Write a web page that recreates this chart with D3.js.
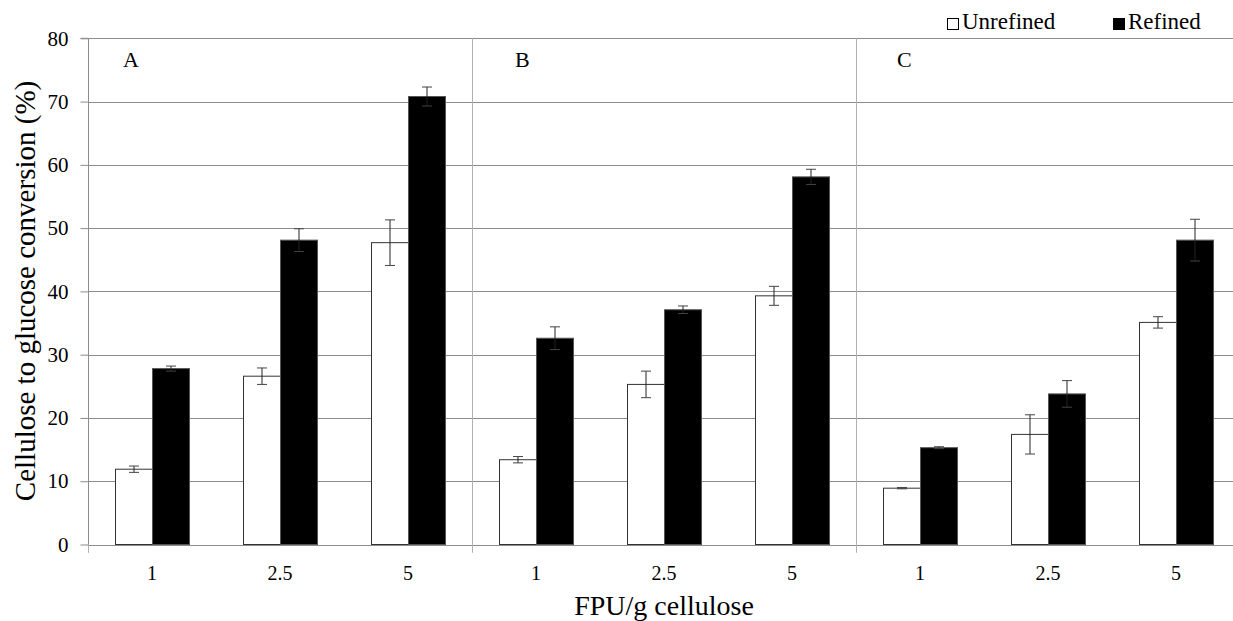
<!DOCTYPE html>
<html lang="en">
<head>
<meta charset="UTF-8">
<script src="https://d3js.org/d3.v7.min.js"></script>
<style>
  body { margin: 0; background: #fff; }
  svg text { font-family: "Liberation Serif", "DejaVu Serif", serif !important; fill: #000; }
</style>
</head>
<body>
<script>
// data
const panels = ["A", "B", "C"];
const doses = ["1", "2.5", "5"];
const series = ["Unrefined", "Refined"];
const unrefined = [[11.9, 26.6, 47.7], [13.4, 25.3, 39.3], [8.9, 17.4, 35.1]];
const refined = [[27.8, 48.1, 70.8], [32.6, 37.1, 58.1], [15.3, 23.8, 48.1]];
const unrefinedErr = [[0.5, 1.3, 3.6], [0.5, 2.1, 1.5], [0.1, 3.1, 0.9]];
const refinedErr = [[0.4, 1.8, 1.5], [1.8, 0.6, 1.2], [0.15, 2.1, 3.3]];
const yTicks = [0, 10, 20, 30, 40, 50, 60, 70, 80];

const W = 1233, H = 621;
const plotLeft = 88, plotTop = 38.3, plotBottom = 544.5, panelW = 384;
const labelDx = [35, 43, 41]; // panel letters sit slightly differently

const svg = d3.select("body").append("svg")
    .attr("width", W).attr("height", H)
    .attr("font-family", "Liberation Serif, serif");

const y = d3.scaleLinear().domain([0, 80]).range([plotBottom, plotTop]);
const xPanel = d3.scaleBand().domain(panels).range([plotLeft, plotLeft + 3 * panelW]);
const xDose = d3.scaleBand().domain(doses).range([0, panelW]);
const xSer = d3.scaleBand().domain(series).range([0, 74]);

// gridlines
svg.append("g").selectAll("line").data(yTicks.slice(1)).join("line")
    .attr("x1", plotLeft).attr("x2", plotLeft + 3 * panelW)
    .attr("y1", d => Math.round(y(d)) + 0.5).attr("y2", d => Math.round(y(d)) + 0.5)
    .attr("stroke", "#8c8c8c").attr("stroke-width", 1);

// panel separators
svg.append("g").selectAll("line").data(panels.slice(1)).join("line")
    .attr("x1", d => xPanel(d) + 0.5).attr("x2", d => xPanel(d) + 0.5)
    .attr("y1", plotTop).attr("y2", plotBottom + 8)
    .attr("stroke", "#b0b0b0");

// y axis
const yAxis = d3.axisLeft(y).tickValues(yTicks).tickSize(8).tickPadding(12);
const ya = svg.append("g").attr("transform", `translate(${plotLeft + 0.5},0)`).call(yAxis)
    .attr("font-family", null).attr("font-size", null);
ya.select(".domain").attr("stroke", "#8c8c8c").attr("d", `M-8,${plotTop}H0V${plotBottom + 8}`);
ya.selectAll(".tick line").attr("stroke", "#8c8c8c");
ya.selectAll(".tick text").style("font-size", "21px").attr("fill", "#000");

// baseline
svg.append("line").attr("x1", plotLeft).attr("x2", plotLeft + 3 * panelW)
    .attr("y1", Math.round(plotBottom) + 0.5).attr("y2", Math.round(plotBottom) + 0.5)
    .attr("stroke", "#8c8c8c");

// panels
panels.forEach((p, pi) => {
  const g = svg.append("g").attr("transform", `translate(${xPanel(p)},0)`);
  g.append("text").attr("x", labelDx[pi]).attr("y", 67).style("font-size", "22px").text(p);

  const rows = doses.map((d, di) => ({
    dose: d,
    vals: [
      { s: "Unrefined", v: unrefined[pi][di], e: unrefinedErr[pi][di] },
      { s: "Refined", v: refined[pi][di], e: refinedErr[pi][di] }
    ]
  }));

  const grp = g.selectAll("g.dose").data(rows).join("g")
      .attr("class", "dose")
      .attr("transform", d => `translate(${xDose(d.dose) + (xDose.bandwidth() - 74) / 2},0)`);

  grp.selectAll("rect").data(d => d.vals).join("rect")
      .attr("x", d => xSer(d.s) + 0.5)
      .attr("y", d => y(d.v))
      .attr("width", xSer.bandwidth())
      .attr("height", d => plotBottom - y(d.v))
      .attr("fill", d => d.s === "Refined" ? "#000" : "#fff")
      .attr("stroke", d => d.s === "Refined" ? "#555" : "#333")
      .attr("stroke-width", 1);

  const eb = grp.selectAll("g.err").data(d => d.vals).join("g")
      .attr("class", "err")
      .attr("transform", d => `translate(${xSer(d.s) + xSer.bandwidth() / 2 + 0.5},0)`);
  eb.append("line").attr("y1", d => y(d.v + d.e)).attr("y2", d => y(d.v - d.e))
      .attr("stroke", "#222");
  eb.append("line").attr("x1", -5).attr("x2", 5)
      .attr("y1", d => y(d.v + d.e)).attr("y2", d => y(d.v + d.e)).attr("stroke", "#444");
  eb.append("line").attr("x1", -5).attr("x2", 5)
      .attr("y1", d => y(d.v - d.e)).attr("y2", d => y(d.v - d.e)).attr("stroke", "#444");

  // dose labels
  g.selectAll("text.doselab").data(doses).join("text")
      .attr("class", "doselab")
      .attr("x", d => xDose(d) + xDose.bandwidth() / 2)
      .attr("y", 580).attr("text-anchor", "middle")
      .style("font-size", "20px").text(d => d);
});

// outer axis ticks at panel edges
svg.append("g").selectAll("line").data(d3.range(4)).join("line")
    .attr("x1", d => plotLeft + d * panelW + 0.5).attr("x2", d => plotLeft + d * panelW + 0.5)
    .attr("y1", plotBottom).attr("y2", plotBottom + 8).attr("stroke", "#b0b0b0");

// axis titles
svg.append("text").attr("transform", `translate(35,291) rotate(-90)`)
    .attr("text-anchor", "middle").style("font-size", "29px")
    .text("Cellulose to glucose conversion (%)");
svg.append("text").attr("x", plotLeft + 1.5 * panelW).attr("y", 615).attr("text-anchor", "middle")
    .style("font-size", "28px").text("FPU/g cellulose");

// legend
const lg = svg.append("g");
const legX = [947, 1113];
series.forEach((s, i) => {
  lg.append("rect").attr("x", legX[i] + 0.5).attr("y", 18.5).attr("width", 11).attr("height", 11)
      .attr("fill", s === "Refined" ? "#000" : "#fff").attr("stroke", "#000");
  lg.append("text").attr("x", legX[i] + 15).attr("y", 29).style("font-size", "23px").text(s);
});
</script>
</body>
</html>
